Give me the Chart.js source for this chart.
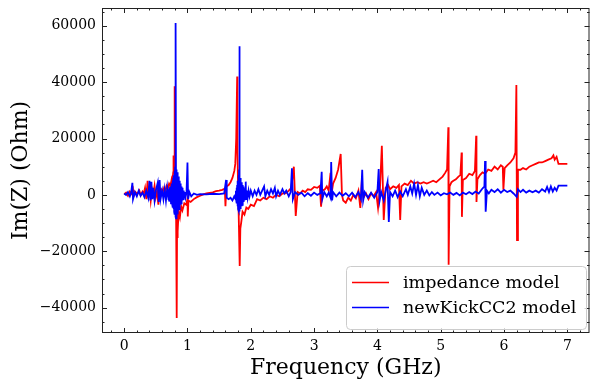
<!DOCTYPE html>
<html>
<head>
<meta charset="utf-8">
<script src="https://cdn.jsdelivr.net/npm/chart.js@4.4.1/dist/chart.umd.min.js"></script>
<style>
body{margin:0;background:#fff;}
#wrap{width:590px;height:385px;}
</style>
</head>
<body>
<div id="wrap"><canvas id="myChart" width="590" height="385"></canvas></div>
<script>
const seriesNames = ['impedance model', 'newKickCC2 model'];
const seriesColors = ['#ff0000', '#0000ff'];

// impedance model (GHz, Ohm)
const redFreq = [0.00,0.03,0.06,0.09,0.12,0.14,0.15,0.18,0.21,0.24,0.26,0.29,0.31,0.33,0.35,0.37,0.385,0.40,0.42,0.44,0.46,0.48,0.50,0.52,0.54,0.555,0.57,0.59,0.61,0.63,0.65,0.67,0.69,0.71,0.73,0.75,0.76,0.775,0.78,0.79,0.795,0.80,0.81,0.82,0.83,0.835,0.84,0.85,0.86,0.88,0.90,0.92,0.95,0.98,1.00,1.005,1.015,1.05,1.10,1.15,1.20,1.25,1.30,1.35,1.40,1.45,1.50,1.55,1.59,1.60,1.615,1.65,1.68,1.71,1.74,1.755,1.77,1.785,1.79,1.80,1.81,1.825,1.835,1.85,1.87,1.90,1.93,1.96,2.00,2.05,2.10,2.15,2.20,2.25,2.30,2.35,2.40,2.45,2.50,2.55,2.60,2.64,2.68,2.71,2.74,2.78,2.82,2.86,2.90,2.95,3.00,3.05,3.09,3.11,3.13,3.17,3.20,3.23,3.26,3.28,3.30,3.34,3.38,3.42,3.44,3.46,3.50,3.54,3.58,3.62,3.66,3.70,3.73,3.75,3.78,3.82,3.86,3.90,3.94,3.98,4.01,4.04,4.07,4.10,4.13,4.17,4.20,4.25,4.30,4.34,4.36,4.38,4.43,4.48,4.53,4.58,4.63,4.68,4.73,4.78,4.83,4.88,4.93,4.98,5.03,5.07,5.10,5.12,5.125,5.14,5.17,5.20,5.24,5.28,5.31,5.33,5.335,5.35,5.40,5.45,5.50,5.54,5.56,5.565,5.58,5.62,5.66,5.70,5.75,5.80,5.85,5.90,5.95,5.98,5.99,6.01,6.05,6.10,6.15,6.18,6.195,6.205,6.22,6.26,6.30,6.35,6.40,6.45,6.50,6.55,6.60,6.65,6.70,6.75,6.78,6.80,6.83,6.86,7.00];
const redImZ = [200,800,-300,1200,300,1800,-500,1000,300,1500,-200,1200,500,2500,-1500,5000,-1000,3000,-2000,2000,200,3200,-800,1500,-3500,2500,500,1800,1000,2500,1500,3200,2200,4000,3200,5500,4500,8000,14000,9000,38500,12000,3000,-5000,-43700,-15000,-9000,-13000,-6000,-8000,-4000,-5500,-3000,-3500,-1500,-7700,-2000,-2500,-1500,-800,-300,200,500,700,900,1300,1500,1800,2200,-4000,3000,3500,4500,6000,8500,11000,20000,42000,15000,2000,-8000,-25200,-12000,-9600,-6000,-7000,-4500,-5000,-3500,-4000,-1500,-2000,-1000,-1500,-500,-1000,0,-500,500,500,1500,2500,10000,-7500,1000,500,1500,1000,2000,1800,2800,2500,3200,-4200,1500,2000,3000,1500,7800,1000,4000,6000,9000,14500,0,-2000,-2800,-1000,-2000,0,-1200,1500,-4600,3500,-1000,500,-1500,500,-500,1000,-4600,2000,17400,-8900,2500,3500,2000,3000,2500,3500,-8900,3000,4000,3500,5000,4000,4500,4000,4500,4000,4500,5000,4500,5500,6500,7800,9000,24000,-24800,3000,4500,5000,5500,6500,7000,15000,-7800,5300,6000,7500,7000,8500,21000,-2500,5500,7000,8000,7500,9000,8500,10000,9000,10500,10000,1800,9500,10500,11500,13000,15000,39000,-16000,9000,8900,9500,9000,10000,10500,11000,11500,11500,12000,12500,13000,14000,12500,13500,11000,11000];

// newKickCC2 model
const blueFreq = [0.00,0.03,0.06,0.09,0.11,0.13,0.14,0.17,0.20,0.23,0.26,0.29,0.32,0.35,0.38,0.40,0.415,0.43,0.445,0.46,0.48,0.50,0.53,0.545,0.56,0.575,0.60,0.62,0.64,0.66,0.68,
  0.700,0.705,0.710,0.715,0.720,0.725,0.730,0.735,0.740,0.745,0.750,0.755,0.760,0.765,0.770,0.775,0.780,0.785,0.790,0.795,0.800,0.805,0.810,0.815,0.820,0.825,0.830,0.835,0.840,0.845,0.850,0.855,0.860,0.865,0.870,0.875,0.880,0.885,0.890,0.895,0.900,0.905,0.910,0.915,0.920,0.925,0.930,0.940,0.950,0.960,0.970,0.985,
  1.00,1.01,1.03,1.06,1.10,1.15,1.20,1.30,1.40,1.50,1.58,1.61,1.62,1.65,1.68,1.71,1.74,
  1.760,1.765,1.770,1.775,1.780,1.785,1.790,1.795,1.800,1.805,1.810,1.815,1.820,1.825,1.830,1.835,1.840,1.845,1.850,1.855,1.860,1.865,1.870,1.875,1.880,1.885,1.890,1.900,1.910,1.920,1.925,1.935,1.950,1.965,1.980,
  2.00,2.03,2.06,2.09,2.12,2.15,2.18,2.21,2.23,2.26,2.29,2.32,2.35,2.38,2.40,2.43,2.46,2.50,2.53,2.56,2.60,2.63,2.65,2.665,2.70,2.75,2.80,2.85,2.90,2.95,3.00,3.05,3.10,3.12,3.13,3.16,3.20,3.23,3.26,3.27,3.285,3.30,3.35,3.40,3.45,3.50,3.55,3.60,3.65,3.70,3.74,3.76,3.775,3.80,3.85,3.90,3.95,4.00,4.02,4.035,4.06,4.10,4.14,4.16,4.18,4.20,4.24,4.28,4.32,4.36,4.40,4.45,4.48,4.52,4.55,4.58,4.61,4.64,4.67,4.70,4.74,4.78,4.82,4.86,4.90,4.95,5.00,5.05,5.10,5.15,5.20,5.25,5.30,5.35,5.40,5.45,5.50,5.55,5.60,5.65,5.69,5.70,5.71,5.73,5.76,5.80,5.85,5.90,5.95,6.00,6.05,6.10,6.15,6.20,6.22,6.26,6.30,6.35,6.40,6.45,6.50,6.55,6.60,6.65,6.68,6.71,6.74,6.77,6.80,6.83,6.86,7.00];
const blueImZ = [500,0,1000,-500,800,4300,-1500,1000,-500,1500,-300,800,-800,1500,-1000,5000,-2000,4600,-1500,2500,-2000,1500,4300,-2500,5300,-1500,1500,-1500,2000,-2000,2500,
  -1500,2000,-2000,2500,-2000,3000,-2500,3000,-3000,3500,-3000,4000,-3500,5000,-4500,6000,-5000,7000,-6000,8500,-7000,10000,-8000,61000,-8300,9000,-7500,8000,-7000,7000,-6000,6500,-5500,5500,-5000,5000,-4000,4000,-3500,3500,-3000,3000,-2500,2500,-2000,2000,-1500,1500,-1000,1000,-800,800,
  11500,-1500,1000,-500,500,0,300,200,400,300,500,5300,-1000,-1500,-1000,-2000,-500,
  -1500,1500,-2000,2500,-3000,3500,-4000,5000,-5000,7000,-5500,9000,52700,-5900,6000,-5000,5000,-4500,4500,-4000,4000,-3500,3500,-3000,3000,-2500,2500,-2000,2000,4700,-1500,1500,-1000,1500,-500,
  1500,-500,1500,0,2000,0,1500,3000,-500,1500,0,2000,500,2500,-500,1500,0,2000,500,1500,-500,1000,9400,-1500,1000,0,800,-500,600,-300,800,0,600,8200,-1500,1000,-500,800,-1000,11700,-2000,1000,-500,800,-300,600,-500,800,-800,1000,-1500,8900,-2000,1000,-1000,800,-1000,1000,9200,-2000,1000,-2000,2500,4600,-9600,1000,-500,1500,-800,1200,-500,2000,0,3000,500,4000,0,3500,-500,2500,0,1500,-200,1000,0,800,-200,600,200,800,0,700,-200,800,200,1000,300,1200,500,2000,3000,12000,-6000,1500,500,1800,1000,2000,800,1800,1000,1500,500,-700,2000,1000,1800,800,1500,900,1500,800,2000,1200,2800,1000,3000,1200,2500,1500,3300,3300];

const xTicks = [0, 1, 2, 3, 4, 5, 6, 7];
const yTicks = [-40000, -20000, 0, 20000, 40000, 60000];

Chart.defaults.font.family = '"DejaVu Serif", serif';
Chart.defaults.color = '#000';

function toPoints(xs, ys) {
  return xs.map((x, i) => ({x: x, y: ys[i]}));
}

function fmt(v) {
  return v < 0 ? '\u2212' + Math.abs(v) : String(v);
}

// inward major/minor ticks on all four sides + frame
const tickMarks = {
  id: 'tickMarks',
  afterDatasetsDraw(chart) {
    const ctx = chart.ctx;
    const a = chart.chartArea;
    const xs = chart.scales.x, ys = chart.scales.y;
    ctx.save();
    ctx.strokeStyle = '#222';
    ctx.lineWidth = 1;
    const line = (x1, y1, x2, y2) => { ctx.beginPath(); ctx.moveTo(x1, y1); ctx.lineTo(x2, y2); ctx.stroke(); };
    for (let v = -0.2; v <= 7.3; v += 0.2) {
      const p = Math.round(xs.getPixelForValue(v)) + 0.5;
      const major = Math.abs(v - Math.round(v)) < 1e-6;
      const len = major ? 5 : 2.5;
      line(p, a.bottom, p, a.bottom - len);
      line(p, a.top, p, a.top + len);
    }
    for (let v = -45000; v <= 66000; v += 5000) {
      const p = Math.round(ys.getPixelForValue(v)) + 0.5;
      const len = v % 20000 === 0 ? 5 : 2.5;
      line(a.left, p, a.left + len, p);
      line(a.right, p, a.right - len, p);
    }
    ctx.strokeRect(a.left + 0.5, a.top + 0.5, a.right - a.left - 1, a.bottom - a.top - 1);
    ctx.restore();
  }
};

const boxLegend = {
  id: 'boxLegend',
  afterDraw(chart) {
    const ctx = chart.ctx;
    const x0 = 346, y0 = 266, w = 240, h = 63, r = 4;
    ctx.save();
    ctx.beginPath();
    ctx.roundRect(x0 + 0.5, y0 + 0.5, w, h, r);
    ctx.fillStyle = 'rgba(255,255,255,0.8)';
    ctx.fill();
    ctx.strokeStyle = '#cccccc';
    ctx.lineWidth = 1;
    ctx.stroke();
    ctx.font = '17.5px "DejaVu Serif"';
    ctx.textBaseline = 'middle';
    chart.data.datasets.forEach((ds, i) => {
      const y = 282.5 + i * 25;
      ctx.strokeStyle = ds.borderColor;
      ctx.lineWidth = 1.5;
      ctx.beginPath();
      ctx.moveTo(352, y);
      ctx.lineTo(389, y);
      ctx.stroke();
      ctx.fillStyle = '#000';
      ctx.fillText(ds.label, 403, y + 1);
    });
    ctx.restore();
  }
};

const data = {
  datasets: [
    {
      label: seriesNames[0],
      data: toPoints(redFreq, redImZ),
      borderColor: seriesColors[0],
      backgroundColor: seriesColors[0],
      borderWidth: 1.8,
      pointRadius: 0,
      tension: 0,
      order: 2
    },
    {
      label: seriesNames[1],
      data: toPoints(blueFreq, blueImZ),
      borderColor: seriesColors[1],
      backgroundColor: seriesColors[1],
      borderWidth: 1.8,
      pointRadius: 0,
      tension: 0,
      order: 1
    }
  ]
};

const config = {
  type: 'line',
  data: data,
  options: {
    responsive: false,
    animation: false,
    layout: {padding: {top: 8, right: 0.5, left: 0, bottom: 0}},
    plugins: {legend: {display: false}, tooltip: {enabled: false}},
    scales: {
      x: {
        type: 'linear',
        min: -0.35,
        max: 7.35,
        grid: {display: false, drawTicks: false},
        border: {display: false},
        afterBuildTicks: s => { s.ticks = xTicks.map(v => ({value: v})); },
        afterFit: s => { s.height = 52; s.paddingLeft = 0; s.paddingRight = 0; },
        ticks: {padding: 5, font: {size: 14}, maxRotation: 0, callback: v => fmt(v)},
        title: {display: true, text: 'Frequency (GHz)', font: {size: 22}, padding: {bottom: 4}}
      },
      y: {
        min: -49000,
        max: 66300,
        grid: {display: false, drawTicks: false},
        border: {display: false},
        afterBuildTicks: s => { s.ticks = yTicks.map(v => ({value: v})); },
        afterFit: s => { s.width = 102; s.paddingTop = 0; s.paddingBottom = 0; },
        ticks: {padding: 6, font: {size: 14}, callback: v => fmt(v)},
        title: {display: true, text: 'Im(Z) (Ohm)', font: {size: 22}, padding: {top: 8}}
      }
    }
  },
  plugins: [tickMarks, boxLegend]
};

const myChart = new Chart(document.getElementById('myChart'), config);
</script>
</body>
</html>
